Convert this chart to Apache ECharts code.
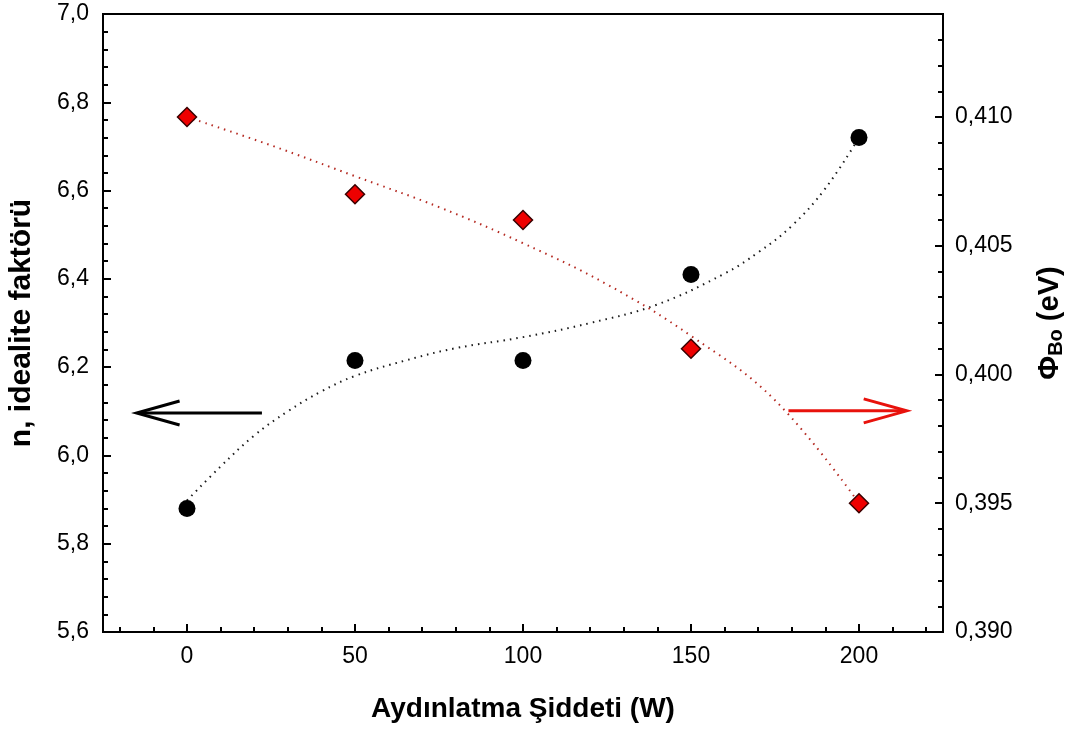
<!DOCTYPE html>
<html>
<head>
<meta charset="utf-8">
<script src="https://cdn.jsdelivr.net/npm/echarts@6/dist/echarts.min.js"></script>
<style>
  html, body { margin: 0; padding: 0; background: #fff; }
  #chart { width: 1081px; height: 733px; }
</style>
</head>
<body>
<div id="chart"></div>
<script>
// ---- data ----
const power = [0, 50, 100, 150, 200];
const idealityN = [5.88, 6.215, 6.215, 6.41, 6.72];
const barrierPhi = [0.410, 0.407, 0.406, 0.401, 0.395];

// fitted curves
const nFitX = [0, 10, 20, 30, 40, 50, 65, 80, 100, 120, 140, 160, 170, 180, 190, 200];
const nFitY = [5.898, 5.975, 6.045, 6.100, 6.145, 6.180, 6.215, 6.243, 6.268, 6.300, 6.342, 6.412, 6.460, 6.520, 6.605, 6.720];
const phiFitX = [0, 25, 50, 75, 100, 125, 150, 175, 200];
const phiFitY = [0.4100, 0.4089, 0.4077, 0.4065, 0.4051, 0.4035, 0.4015, 0.3990, 0.3950];

// tick positions
const xMajorTicks = [0, 50, 100, 150, 200];
const xMinorTicks = [-20, -10, 10, 20, 30, 40, 60, 70, 80, 90, 110, 120, 130, 140, 160, 170, 180, 190, 210, 220];
const rightMajorTicks = [0.390, 0.395, 0.400, 0.405, 0.410];
const rightMinorTicks = [0.391, 0.392, 0.393, 0.394, 0.396, 0.397, 0.398, 0.399, 0.401, 0.402, 0.403, 0.404, 0.406, 0.407, 0.408, 0.409, 0.411, 0.412, 0.413];

// annotation arrows (tail -> tip), in data units of x / left y
const arrowTail = [[22.3, 6.096], [179.0, 6.101]];
const arrowTip = [[-15.0, 6.096], [214.2, 6.101]];

// ---- chart ----
const FONT = 'Liberation Sans, Arial, sans-serif';
const chart = echarts.init(document.getElementById('chart'), null, { renderer: 'canvas' });

const arrowColors = ['#000000', '#e8120c'];

const option = {
  backgroundColor: '#ffffff',
  animation: false,
  textStyle: { fontFamily: FONT },
  grid: {
    left: 103, right: 138, top: 14, bottom: 101,
    containLabel: false, outerBoundsMode: 'none',
    show: true, borderColor: '#000', borderWidth: 2, backgroundColor: 'transparent'
  },
  xAxis: [
    {
      type: 'value', min: -25, max: 225, position: 'bottom',
      name: 'Aydınlatma Şiddeti (W)', nameLocation: 'middle', nameGap: 63,
      nameTextStyle: { fontSize: 28, fontWeight: 'bold', color: '#000', fontFamily: FONT },
      axisLine: { show: true, onZero: false, lineStyle: { color: '#000', width: 2 } },
      axisTick: { show: true, inside: true, length: 8, customValues: xMajorTicks, lineStyle: { color: '#000', width: 2 } },
      axisLabel: { customValues: xMajorTicks, margin: 13, fontSize: 23, color: '#000', fontFamily: FONT },
      splitLine: { show: false }
    },
    {
      type: 'value', min: -25, max: 225, position: 'bottom',
      axisLine: { show: false, onZero: false },
      axisTick: { show: true, inside: true, length: 5, customValues: xMinorTicks, lineStyle: { color: '#000', width: 2 } },
      axisLabel: { show: false },
      splitLine: { show: false }
    }
  ],
  yAxis: [
    {
      type: 'value', min: 5.6, max: 7.0, interval: 0.2, position: 'left',
      name: 'n, idealite faktörü', nameLocation: 'middle', nameGap: 66, nameRotate: 90,
      nameTextStyle: { fontSize: 30, fontWeight: 'bold', color: '#000', fontFamily: FONT },
      axisLine: { show: true, onZero: false, lineStyle: { color: '#000', width: 2 } },
      axisTick: { show: true, inside: true, length: 8, lineStyle: { color: '#000', width: 2 } },
      minorTick: { show: true, splitNumber: 5, length: 5, lineStyle: { color: '#000', width: 2 } },
      axisLabel: {
        margin: 14, fontSize: 23, color: '#000', fontFamily: FONT,
        formatter: v => v.toFixed(1).replace('.', ',')
      },
      splitLine: { show: false }
    },
    {
      type: 'value', min: 0.390, max: 0.414, position: 'right',
      name: '{a|Φ}{b|Bo}{a| (eV)}', nameLocation: 'middle', nameGap: 90, nameRotate: 90,
      nameTextStyle: {
        color: '#000', fontFamily: FONT,
        rich: {
          a: { fontSize: 29, fontWeight: 'bold', color: '#000', fontFamily: FONT, lineHeight: 34 },
          b: { fontSize: 20, fontWeight: 'bold', color: '#000', fontFamily: FONT, verticalAlign: 'top', padding: [13, 0, 0, 0] }
        }
      },
      axisLine: { show: true, onZero: false, lineStyle: { color: '#000', width: 2 } },
      axisTick: { show: true, inside: true, length: 8, customValues: rightMajorTicks, lineStyle: { color: '#000', width: 2 } },
      axisLabel: {
        customValues: rightMajorTicks, margin: 12, fontSize: 23, color: '#000', fontFamily: FONT,
        formatter: v => v.toFixed(3).replace('.', ',')
      },
      splitLine: { show: false }
    },
    {
      type: 'value', min: 0.390, max: 0.414, position: 'right',
      axisLine: { show: false, onZero: false },
      axisTick: { show: true, inside: true, length: 5, customValues: rightMinorTicks, lineStyle: { color: '#000', width: 2 } },
      axisLabel: { show: false },
      splitLine: { show: false }
    }
  ],
  series: [
    {
      type: 'line', name: 'n fit', xAxisIndex: 0, yAxisIndex: 0,
      data: nFitX.map((x, i) => [x, nFitY[i]]),
      smooth: 0.4, showSymbol: false, symbol: 'none', silent: true,
      lineStyle: { color: '#1a1a1a', width: 2, type: [1.5, 5] },
      z: 2
    },
    {
      type: 'line', name: 'phi fit', xAxisIndex: 0, yAxisIndex: 1,
      data: phiFitX.map((x, i) => [x, phiFitY[i]]),
      smooth: 0.4, showSymbol: false, symbol: 'none', silent: true,
      lineStyle: { color: '#b52a22', width: 2, type: [1.5, 5] },
      z: 2
    },
    {
      type: 'scatter', name: 'n', xAxisIndex: 0, yAxisIndex: 0,
      data: power.map((x, i) => [x, idealityN[i]]),
      symbol: 'circle', symbolSize: 17,
      itemStyle: { color: '#000', opacity: 1 },
      z: 5
    },
    {
      type: 'scatter', name: 'phi', xAxisIndex: 0, yAxisIndex: 1,
      data: power.map((x, i) => [x, barrierPhi[i]]),
      symbol: 'diamond', symbolSize: 19,
      itemStyle: { color: '#ee0000', borderColor: '#3a0000', borderWidth: 1.5, opacity: 1 },
      z: 5
    },
    {
      type: 'custom', name: 'arrows', xAxisIndex: 0, yAxisIndex: 0, silent: true,
      data: arrowTail.map((t, i) => [t[0], t[1], arrowTip[i][0], arrowTip[i][1]]),
      encode: { x: [0, 2], y: [1, 3] },
      renderItem: function (params, api) {
        const p1 = api.coord([api.value(0), api.value(1)]);
        const p2 = api.coord([api.value(2), api.value(3)]);
        const color = arrowColors[params.dataIndex];
        const dx = p2[0] - p1[0], dy = p2[1] - p1[1];
        const len = Math.sqrt(dx * dx + dy * dy);
        const ux = dx / len, uy = dy / len;
        const hl = 43, hw = 12;
        const bx = p2[0] - ux * hl, by = p2[1] - uy * hl;
        const w1 = [bx - uy * hw, by + ux * hw];
        const w2 = [bx + uy * hw, by - ux * hw];
        return {
          type: 'group',
          children: [
            { type: 'line', shape: { x1: p1[0], y1: p1[1], x2: p2[0] - ux * 2, y2: p2[1] - uy * 2 },
              style: { stroke: color, lineWidth: 3 } },
            { type: 'polyline', shape: { points: [w1, p2, w2] },
              style: { stroke: color, lineWidth: 3, fill: null, lineJoin: 'miter' } }
          ]
        };
      },
      z: 4
    }
  ]
};

chart.setOption(option);
</script>
</body>
</html>
